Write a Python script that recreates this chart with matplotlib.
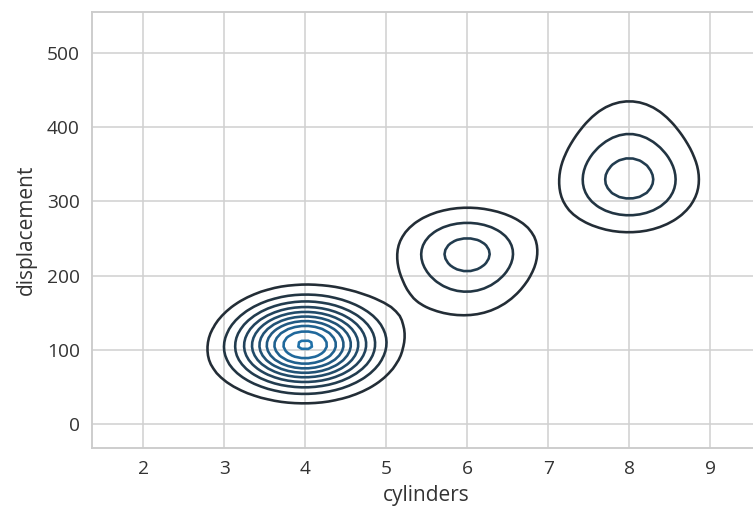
import numpy as np
import matplotlib
matplotlib.use("Agg")
import matplotlib.pyplot as plt
from matplotlib.colors import LinearSegmentedColormap

# ---- data: engine displacement values (and how many cars share each) per cylinder count
cyl3_disp = [70, 80]
cyl3_count = [3, 1]

cyl4_disp = [68, 71, 72, 76, 78, 79, 81, 83, 85, 86, 89, 90, 91, 97, 98, 104, 105, 107,
             108, 112, 113, 114, 116, 119, 120, 121, 122, 133, 134, 135, 140, 146, 151, 156]
cyl4_count = [1, 1, 1, 1, 1, 2, 1, 1, 2, 2, 3, 5, 14, 26, 22, 3, 15, 13,
              15, 7, 4, 2, 3, 9, 11, 14, 8, 1, 2, 3, 5, 1, 4, 1]

cyl5_disp = [121, 131, 183]
cyl5_count = [1, 1, 1]

cyl6_disp = [145, 146, 155, 156, 163, 168, 171, 173, 181, 198, 199, 200, 225, 231, 232, 250, 258]
cyl6_count = [1, 1, 2, 1, 2, 2, 2, 2, 1, 3, 3, 8, 13, 9, 10, 17, 7]

cyl8_disp = [260, 262, 267, 302, 304, 305, 307, 318, 340, 350, 351, 360, 383, 390, 400, 429, 440, 454, 455]
cyl8_count = [2, 1, 1, 9, 6, 5, 5, 17, 1, 20, 8, 3, 2, 1, 13, 3, 2, 1, 3]

groups = [(3, cyl3_disp, cyl3_count), (4, cyl4_disp, cyl4_count), (5, cyl5_disp, cyl5_count),
          (6, cyl6_disp, cyl6_count), (8, cyl8_disp, cyl8_count)]

cylinders = np.concatenate([np.full(sum(c), g) for g, d, c in groups]).astype(float)
displacement = np.concatenate([np.repeat(d, c) for g, d, c in groups]).astype(float)


def bw_scott(v):
    iqr = (np.percentile(v, 75) - np.percentile(v, 25)) / 1.349
    sd = np.std(v, ddof=1)
    a = min(sd, iqr) if iqr > 0 else sd
    return 1.059 * a * len(v) ** (-0.2)


bx, by = bw_scott(cylinders), bw_scott(displacement)
cut, gridsize = 3, 100
xs = np.linspace(cylinders.min() - cut * bx, cylinders.max() + cut * bx, gridsize)
ys = np.linspace(displacement.min() - cut * by, displacement.max() + cut * by, gridsize)
xx, yy = np.meshgrid(xs, ys)
kx = np.exp(-0.5 * ((xx.ravel()[:, None] - cylinders[None, :]) / bx) ** 2) / (np.sqrt(2 * np.pi) * bx)
ky = np.exp(-0.5 * ((yy.ravel()[:, None] - displacement[None, :]) / by) ** 2) / (np.sqrt(2 * np.pi) * by)
zz = (kx * ky).mean(axis=1).reshape(xx.shape)

# ---- style
plt.rcParams['font.family'] = ['Open Sans', 'DejaVu Sans']
text_color = '#333333'
W, H, DPI = 753, 513, 125
fig = plt.figure(figsize=(W / DPI, H / DPI), dpi=DPI)
px_per_x = 81.0
left_px, bottom_px, top_px = 92, 448, 12
ax_w = (xs[-1] - xs[0]) * px_per_x
ax = fig.add_axes([left_px / W, (H - bottom_px) / H, ax_w / W, (bottom_px - top_px) / H])
ax.set_facecolor('white')
for s in ax.spines.values():
    s.set_color('#cccccc')
    s.set_linewidth(1.1)
ax.grid(True, color='#d0d0d0', linewidth=0.9)
ax.set_axisbelow(True)
ax.tick_params(length=0, labelsize=11, colors=text_color, pad=7)

try:
    import seaborn as sns
    cmap = sns.dark_palette('#1f77b4', as_cmap=True)
except Exception:
    cmap = LinearSegmentedColormap.from_list('dk', ['#282c30', '#1f77b4'])

ax.contour(xx, yy, zz, 10, cmap=cmap, linewidths=1.5)
ax.set_xlim(xs[0], xs[-1])
ax.set_ylim(ys[0], ys[-1])
ax.set_xticks([2, 3, 4, 5, 6, 7, 8, 9])
ax.set_yticks([0, 100, 200, 300, 400, 500])
ax.set_xlabel('cylinders', fontsize=12, color=text_color, labelpad=4)
ax.set_ylabel('displacement', fontsize=12, color=text_color, labelpad=6)

fig.savefig('out.png', dpi=DPI)
